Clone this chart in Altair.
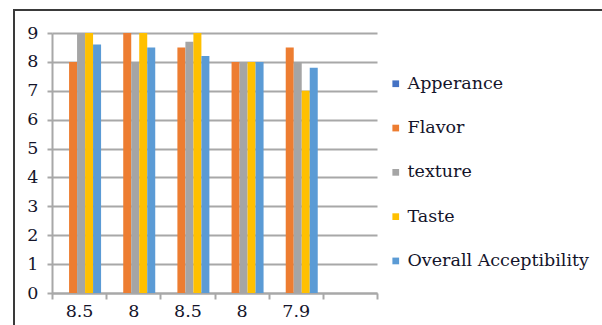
import json
import altair as alt
import pandas as pd

# Category labels (the Apperance scores were used as the axis categories)
categories = ["8.5", "8", "8.5", "8", "7.9", ""]
series = ["Apperance", "Flavor", "texture", "Taste", "Overall Acceptibility"]
colors = ["#4472C4", "#ED7D31", "#A5A5A5", "#FFC000", "#5B9BD5"]

flavor = [8, 9, 8.5, 8, 8.5]
texture = [9, 8, 8.7, 8, 8]
taste = [9, 9, 9, 8, 7]
overall = [8.6, 8.5, 8.2, 8, 7.8]

rows = []
for name, vals in [("Flavor", flavor), ("texture", texture),
                   ("Taste", taste), ("Overall Acceptibility", overall)]:
    for i, v in enumerate(vals):
        rows.append({"cat": i, "series": name, "value": v})
df = pd.DataFrame(rows)

TEXT = "#14142a"
GRID = "#a8a8a8"
FONT = "DejaVu Serif"

label_expr = json.dumps(categories) + "[datum.value]"

bars = alt.Chart(df).mark_bar(size=8).encode(
    x=alt.X(
        "cat:O",
        scale=alt.Scale(domain=list(range(len(categories))), paddingInner=0, paddingOuter=0),
        axis=alt.Axis(
            title=None, labelExpr=label_expr, labelAngle=0, tickBand="extent",
            domainColor=GRID, domainWidth=2, tickColor=GRID, tickWidth=2, tickSize=6,
            labelFontSize=17.5, labelColor=TEXT, labelPadding=3,
            grid=False,
        ),
    ),
    xOffset=alt.XOffset(
        "series:N",
        scale=alt.Scale(domain=series, paddingInner=0, paddingOuter=0.885, align=0.64),
    ),
    y=alt.Y(
        "value:Q",
        scale=alt.Scale(domain=[0, 9], nice=False, zero=True),
        axis=alt.Axis(
            title=None, values=list(range(10)), grid=True, gridColor=GRID, gridWidth=2,
            domainColor=GRID, domainWidth=2, tickColor=GRID, tickWidth=2, tickSize=5,
            labelFontSize=17.5, labelColor=TEXT, labelPadding=9,
        ),
    ),
    color=alt.Color(
        "series:N",
        scale=alt.Scale(domain=series, range=colors),
        legend=alt.Legend(
            orient="none", legendX=335, legendY=42, title=None,
            symbolType="square", symbolSize=45, symbolStrokeWidth=0,
            labelFontSize=17.5, labelColor=TEXT, labelOffset=3,
            labelLimit=0, rowPadding=25.3,
        ),
    ),
)

frame = alt.Chart(pd.DataFrame({"k": [0]})).mark_rect(
    filled=False, stroke="#3a3a3a", strokeWidth=2
).encode(
    x=alt.value(-38), x2=alt.value(700), y=alt.value(-23), y2=alt.value(400)
)

chart = alt.layer(frame, bars).properties(
    width=325, height=260,
    autosize=alt.AutoSizeParams(type="none"),
    padding={"left": 52, "top": 33, "right": 225, "bottom": 32},
    background="white",
).configure(font=FONT).configure_view(stroke=None)

chart.save("out.html", embed_options={"renderer": "svg", "actions": False})
